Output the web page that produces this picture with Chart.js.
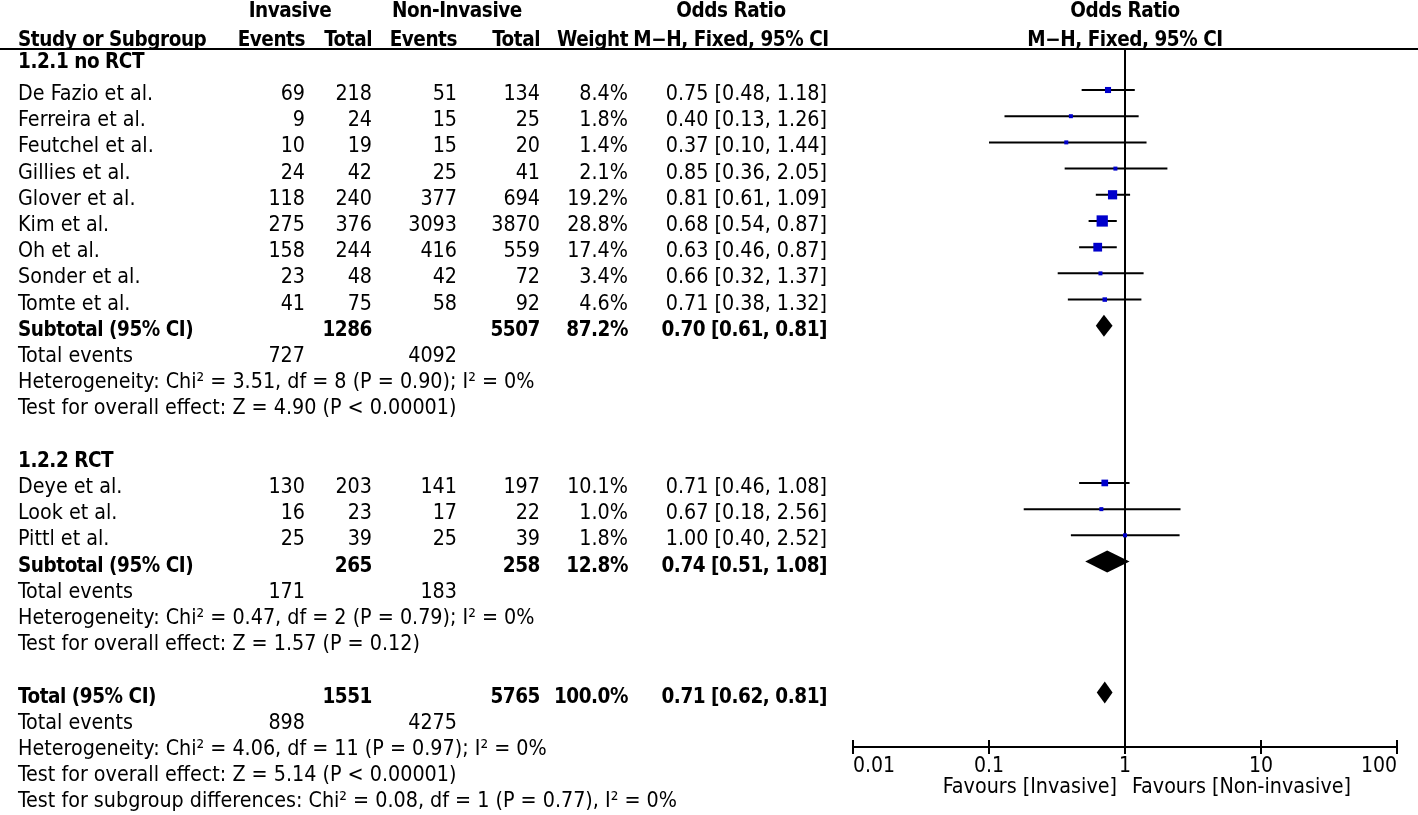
<!DOCTYPE html>
<html>
<head>
<meta charset="utf-8">
<script src="https://cdn.jsdelivr.net/npm/chart.js@4.4.0/dist/chart.umd.min.js"></script>
<style>
  html, body { margin: 0; padding: 0; background: #fff; }
  #wrap { position: relative; width: 1418px; height: 815px; overflow: hidden; }
  #plot { position: absolute; left: 0; top: 0; }
  .t { position: absolute; white-space: nowrap; font-family: "DejaVu Sans Condensed", "DejaVu Sans", sans-serif; font-size: 21.3px; line-height: 26px; height: 26px; color: #000; }
  .b { font-weight: bold; font-size: 20.5px; letter-spacing: -0.45px; }
  #rule { position: absolute; left: 0; top: 48px; width: 1418px; height: 2px; background: #000; }
</style>
</head>
<body>
<div id="wrap">
  <canvas id="plot" width="1418" height="815"></canvas>
  <div id="rule"></div>
</div>
<script>
// study level data
const studies = ['De Fazio et al.', 'Ferreira et al.', 'Feutchel et al.', 'Gillies et al.', 'Glover et al.', 'Kim et al.', 'Oh et al.', 'Sonder et al.', 'Tomte et al.', 'Deye et al.', 'Look et al.', 'Pittl et al.'];
const studyRows = [0, 1, 2, 3, 4, 5, 6, 7, 8, 15, 16, 17];
const invEvents = [69, 9, 10, 24, 118, 275, 158, 23, 41, 130, 16, 25];
const invTotal = [218, 24, 19, 42, 240, 376, 244, 48, 75, 203, 23, 39];
const nonEvents = [51, 15, 15, 25, 377, 3093, 416, 42, 58, 141, 17, 25];
const nonTotal = [134, 25, 20, 41, 694, 3870, 559, 72, 92, 197, 22, 39];
const weights = [8.4, 1.8, 1.4, 2.1, 19.2, 28.8, 17.4, 3.4, 4.6, 10.1, 1.0, 1.8];
const orEst = [0.75, 0.40, 0.37, 0.85, 0.81, 0.68, 0.63, 0.66, 0.71, 0.71, 0.67, 1.00];
const ciLow = [0.48, 0.13, 0.10, 0.36, 0.61, 0.54, 0.46, 0.32, 0.38, 0.46, 0.18, 0.40];
const ciHigh = [1.18, 1.26, 1.44, 2.05, 1.09, 0.87, 0.87, 1.37, 1.32, 1.08, 2.56, 2.52];

// subgroups and pooled estimates
const groupNames = ['1.2.1 no RCT', '1.2.2 RCT'];
const groupRows = [-1.22, 14];
const pooledLabels = ['Subtotal (95% CI)', 'Subtotal (95% CI)', 'Total (95% CI)'];
const pooledRows = [9, 18, 23];
const pooledInvTotal = [1286, 265, 1551];
const pooledNonTotal = [5507, 258, 5765];
const pooledWeight = ['87.2%', '12.8%', '100.0%'];
const pooledOR = [0.70, 0.74, 0.71];
const pooledLow = [0.61, 0.51, 0.62];
const pooledHigh = [0.81, 1.08, 0.81];
const eventRows = [10, 19, 24];
const eventInv = [727, 171, 898];
const eventNon = [4092, 183, 4275];
const noteRows = [11, 12, 20, 21, 25, 26, 27];
const notes = [
  'Heterogeneity: Chi\u00b2 = 3.51, df = 8 (P = 0.90); I\u00b2 = 0%',
  'Test for overall effect: Z = 4.90 (P < 0.00001)',
  'Heterogeneity: Chi\u00b2 = 0.47, df = 2 (P = 0.79); I\u00b2 = 0%',
  'Test for overall effect: Z = 1.57 (P = 0.12)',
  'Heterogeneity: Chi\u00b2 = 4.06, df = 11 (P = 0.97); I\u00b2 = 0%',
  'Test for overall effect: Z = 5.14 (P < 0.00001)',
  'Test for subgroup differences: Chi\u00b2 = 0.08, df = 1 (P = 0.77), I\u00b2 = 0%'
];

// axis
const tickValues = [0.01, 0.1, 1, 10, 100];
const tickLabels = ['0.01', '0.1', '1', '10', '100'];
const favourLeft = 'Favours [Invasive]';
const favourRight = 'Favours [Non-invasive]';

const ROW_MIN = -1.527;
const ROW_MAX = 25.08;
const TEXT_DY = 3;
const FONT = '"DejaVu Sans Condensed", "DejaVu Sans", sans-serif';
const W = 1418;
// right edges of table columns
const colInvE = 305, colInvT = 372, colNonE = 457, colNonT = 540, colWt = 628, colCI = 827;
const ciCenter = 731;

function fmtCI(e, l, h) {
  return e.toFixed(2) + ' [' + l.toFixed(2) + ', ' + h.toFixed(2) + ']';
}

const whiskers = [];
studies.forEach(function(s, i) {
  whiskers.push({ x: ciLow[i], y: studyRows[i] }, { x: ciHigh[i], y: studyRows[i] }, { x: NaN, y: NaN });
});

const forestPlugin = {
  id: 'forest',
  beforeDatasetsDraw(chart) {
    const ctx = chart.ctx, area = chart.chartArea, x = chart.scales.x;
    const x1 = x.getPixelForValue(1);
    ctx.save();
    ctx.strokeStyle = '#000';
    ctx.lineWidth = 2;
    ctx.beginPath();
    ctx.moveTo(x1, area.top);
    ctx.lineTo(x1, area.bottom);
    tickValues.forEach(function(v) {
      const px = x.getPixelForValue(v);
      ctx.moveTo(px, area.bottom);
      ctx.lineTo(px, area.bottom - 7);
    });
    ctx.stroke();
    ctx.restore();
  },
  afterDatasetsDraw(chart) {
    const ctx = chart.ctx, x = chart.scales.x, y = chart.scales.y;
    ctx.save();
    ctx.fillStyle = '#000';
    pooledRows.forEach(function(r, i) {
      const ym = y.getPixelForValue(r);
      const xm = x.getPixelForValue(pooledOR[i]);
      ctx.beginPath();
      ctx.moveTo(x.getPixelForValue(pooledLow[i]), ym);
      ctx.lineTo(xm, ym - 11);
      ctx.lineTo(x.getPixelForValue(pooledHigh[i]), ym);
      ctx.lineTo(xm, ym + 11);
      ctx.closePath();
      ctx.fill();
    });
    ctx.restore();
  }
};

const ctx = document.getElementById('plot').getContext('2d');
const chart = new Chart(ctx, {
  type: 'scatter',
  data: {
    datasets: [
      {
        data: studies.map(function(s, i) { return { x: orEst[i], y: studyRows[i] }; }),
        pointStyle: 'rect',
        pointRadius: weights.map(function(w) { return Math.max(4, 2.1 * Math.sqrt(w)) / Math.SQRT2; }),
        backgroundColor: '#0000cc',
        borderWidth: 0
      },
      {
        data: whiskers,
        showLine: true,
        spanGaps: false,
        borderColor: '#000',
        borderWidth: 2,
        pointRadius: 0
      }
    ]
  },
  options: {
    responsive: false,
    animation: false,
    devicePixelRatio: 1,
    layout: { padding: { left: 853, right: 21, top: 50, bottom: 0 } },
    plugins: { legend: { display: false }, tooltip: { enabled: false } },
    scales: {
      x: {
        type: 'logarithmic',
        min: 0.01,
        max: 100,
        position: 'bottom',
        afterBuildTicks: function(s) { s.ticks = tickValues.map(function(v) { return { value: v }; }); },
        afterFit: function(s) { s.height = 68; },
        ticks: {
          align: 'inner',
          autoSkip: false,
          maxRotation: 0,
          padding: 0,
          color: '#000',
          font: { family: FONT, size: 21 },
          callback: function(v, i) { return tickLabels[i]; }
        },
        grid: { display: true, drawOnChartArea: false, drawTicks: true, tickLength: 7, color: '#000', lineWidth: 2 },
        border: { display: true, color: '#000', width: 2 }
      },
      y: { type: 'linear', reverse: true, min: ROW_MIN, max: ROW_MAX, display: false }
    }
  },
  plugins: [forestPlugin]
});

const wrap = document.getElementById('wrap');
function put(txt, x, row, align, bold) {
  const d = document.createElement('div');
  d.className = 't' + (bold ? ' b' : '');
  d.textContent = txt;
  const yc = chart.scales.y.getPixelForValue(row) + TEXT_DY;
  d.style.top = (yc - 13) + 'px';
  if (align === 'left') d.style.left = x + 'px';
  else if (align === 'right') d.style.right = (W - x) + 'px';
  else { d.style.left = x + 'px'; d.style.transform = 'translateX(-50%)'; }
  wrap.appendChild(d);
}

const x1 = chart.scales.x.getPixelForValue(1);
// header
put('Invasive', 290, -3.15, 'center', true);
put('Non-Invasive', 457, -3.15, 'center', true);
put('Odds Ratio', ciCenter, -3.15, 'center', true);
put('Odds Ratio', x1, -3.15, 'center', true);
put('Study or Subgroup', 18, -2.08, 'left', true);
put('Events', colInvE, -2.08, 'right', true);
put('Total', colInvT, -2.08, 'right', true);
put('Events', colNonE, -2.08, 'right', true);
put('Total', colNonT, -2.08, 'right', true);
put('Weight', colWt, -2.08, 'right', true);
put('M\u2212H, Fixed, 95% CI', ciCenter, -2.08, 'center', true);
put('M\u2212H, Fixed, 95% CI', x1, -2.08, 'center', true);

groupNames.forEach(function(g, i) { put(g, 18, groupRows[i], 'left', true); });

studies.forEach(function(s, i) {
  const r = studyRows[i];
  put(s, 18, r, 'left', false);
  put(String(invEvents[i]), colInvE, r, 'right', false);
  put(String(invTotal[i]), colInvT, r, 'right', false);
  put(String(nonEvents[i]), colNonE, r, 'right', false);
  put(String(nonTotal[i]), colNonT, r, 'right', false);
  put(weights[i].toFixed(1) + '%', colWt, r, 'right', false);
  put(fmtCI(orEst[i], ciLow[i], ciHigh[i]), colCI, r, 'right', false);
});

pooledLabels.forEach(function(p, i) {
  const r = pooledRows[i];
  put(p, 18, r, 'left', true);
  put(String(pooledInvTotal[i]), colInvT, r, 'right', true);
  put(String(pooledNonTotal[i]), colNonT, r, 'right', true);
  put(pooledWeight[i], colWt, r, 'right', true);
  put(fmtCI(pooledOR[i], pooledLow[i], pooledHigh[i]), colCI, r, 'right', true);
});

eventRows.forEach(function(r, i) {
  put('Total events', 18, r, 'left', false);
  put(String(eventInv[i]), colInvE, r, 'right', false);
  put(String(eventNon[i]), colNonE, r, 'right', false);
});

notes.forEach(function(n, i) { put(n, 18, noteRows[i], 'left', false); });

put(favourLeft, x1 - 8, 26.45, 'right', false);
put(favourRight, x1 + 7, 26.45, 'left', false);
</script>
</body>
</html>
